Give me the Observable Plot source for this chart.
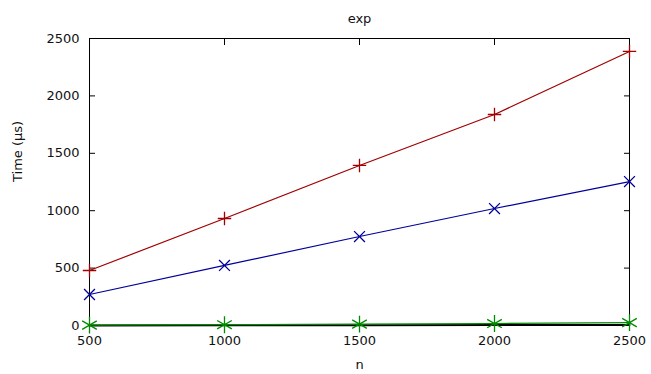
<!DOCTYPE html>
<html>
<head>
<meta charset="utf-8">
<script src="https://cdn.jsdelivr.net/npm/d3@7"></script>
<script src="https://cdn.jsdelivr.net/npm/@observablehq/plot@0.6"></script>
<style>
  html, body { margin: 0; padding: 0; background: #fff; }
  #chart svg { display: block; }
</style>
</head>
<body>
<div id="chart"></div>
<script>
const ns = [500, 1000, 1500, 2000, 2500];
const seriesRed = [479, 932, 1394, 1838, 2387];
const seriesBlue = [270, 523, 775, 1019, 1254];
const seriesGreen = [3, 7, 12, 17, 25];
const seriesBlack = [1, 2, 3, 4, 5];
const yTicks = [0, 500, 1000, 1500, 2000, 2500];
const xTicks = [500, 1000, 1500, 2000, 2500];

const series = [
  {name: "black", values: seriesBlack, color: "#000000", symbol: null, r: 0},
  {name: "green", values: seriesGreen, color: "#008a00", symbol: "asterisk", r: 8},
  {name: "blue", values: seriesBlue, color: "#00009a", symbol: "times", r: 5},
  {name: "red", values: seriesRed, color: "#a00000", symbol: "plus", r: 4.4}
];
const rows = series.flatMap(s => ns.map((n, i) => ({n, v: s.values[i], name: s.name})));

const font = "DejaVu Sans, sans-serif";
const fmt = d => String(d);
const marks = [
  Plot.frame({stroke: "black", strokeWidth: 1}),
  Plot.axisY(yTicks, {anchor: "left", tickSize: -6, text: null, label: null}),
  Plot.axisY(yTicks, {anchor: "right", tickSize: -6, text: null, label: null}),
  Plot.axisX(xTicks, {anchor: "bottom", tickSize: -6, text: null, label: null}),
  Plot.axisX(xTicks, {anchor: "top", tickSize: -6, text: null, label: null}),
  Plot.axisY(yTicks, {anchor: "left", tickSize: 0, tickPadding: 10, label: null, fontSize: 13, fill: "#111", tickFormat: fmt}),
  Plot.axisX(xTicks, {anchor: "bottom", tickSize: 0, tickPadding: 10, label: null, fontSize: 13, fill: "#111", tickFormat: fmt}),
];
for (const s of series) {
  const d = rows.filter(r => r.name === s.name);
  marks.push(Plot.lineY(d, {x: "n", y: "v", stroke: s.color, strokeWidth: s.name === "black" ? 2 : 1.2}));
  if (s.symbol) marks.push(Plot.dot(d, {x: "n", y: "v", symbol: () => s.symbol, stroke: s.color, r: s.r, strokeWidth: 1.3}));
}
marks.push(
  Plot.text(["exp"], {frameAnchor: "top", dy: -25, fontSize: 13, fill: "#111"}),
  Plot.text(["n"], {frameAnchor: "bottom", dy: 43, fontSize: 13, fill: "#111"}),
  Plot.text(["Time (µs)"], {frameAnchor: "left", dx: -72, rotate: -90, fontSize: 13, fill: "#111"})
);

const chart = Plot.plot({
  width: 651,
  height: 374,
  marginLeft: 89,
  marginRight: 22,
  marginTop: 38,
  marginBottom: 49,
  style: {fontFamily: font, background: "#fff"},
  x: {domain: [500, 2500]},
  y: {domain: [0, 2500]},
  symbol: {type: "identity"},
  marks
});
document.getElementById("chart").appendChild(chart);
</script>
</body>
</html>
